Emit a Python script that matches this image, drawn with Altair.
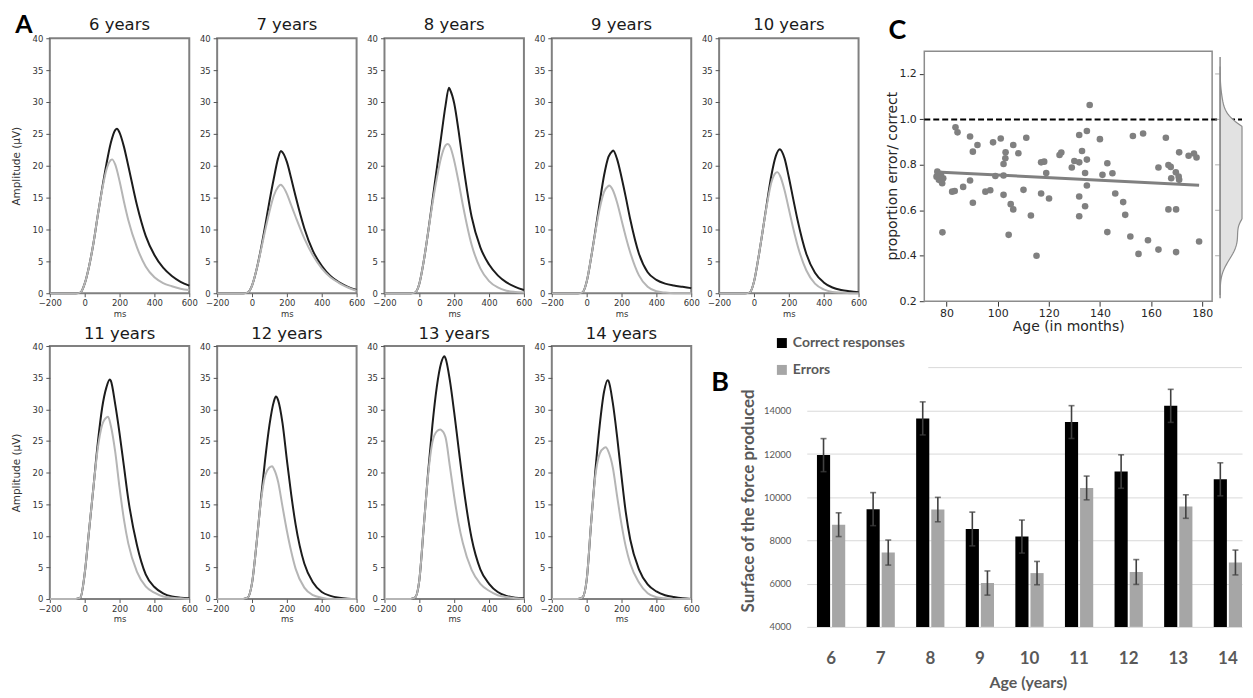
import altair as alt
import pandas as pd

FONT_A = "DejaVu Sans"
FONT_B = "Lato"

# ---------------- Panel A data ----------------
MS = [-200, -100, -50, -25, 0, 25, 50, 75, 100, 125, 150, 175, 200, 225, 250,
      300, 350, 400, 450, 500, 550, 600]
AGES = [6, 7, 8, 9, 10, 11, 12, 13, 14]

CORRECT_CURVES = {
    6: [0, 0, 0, 0.1, 1.5, 4.2, 7.8, 12.2, 16.4, 20.3, 23.6, 25.6, 25.2, 23.0, 20.0, 13.8, 9.0, 6.0, 4.0, 2.7, 1.8, 1.2],
    7: [0, 0, 0, 0.1, 1.2, 3.6, 6.8, 10.5, 14.4, 18.0, 21.2, 22.1, 20.6, 18.0, 15.2, 10.2, 6.6, 4.3, 2.7, 1.7, 1.0, 0.5],
    8: [0, 0, 0, 0.1, 1.5, 5.0, 9.5, 14.5, 19.5, 24.5, 29.4, 32.0, 29.8, 25.5, 20.5, 12.0, 7.2, 4.5, 2.8, 1.7, 1.0, 0.5],
    9: [0, 0, 0, 0.1, 1.8, 5.5, 9.8, 14.3, 18.5, 21.4, 22.35, 21.0, 18.2, 15.0, 11.6, 6.2, 3.3, 2.1, 1.5, 1.2, 1.0, 0.8],
    10: [0, 0, 0, 0.1, 1.8, 5.5, 9.8, 14.3, 18.5, 21.5, 22.58, 21.2, 18.2, 14.8, 11.5, 6.2, 3.2, 1.7, 0.9, 0.5, 0.3, 0.15],
    11: [0, 0, 0, 0.2, 4.0, 10.8, 17.6, 24.6, 30.2, 33.5, 34.5, 30.8, 26.2, 21.0, 15.8, 8.5, 3.9, 1.9, 0.9, 0.4, 0.2, 0.1],
    12: [0, 0, 0, 0.2, 2.5, 8.5, 15.5, 22.0, 27.5, 31.2, 31.4, 27.8, 22.0, 16.5, 11.8, 5.6, 2.6, 1.1, 0.5, 0.2, 0.05, 0],
    13: [0, 0, 0, 0.2, 3.0, 11.3, 19.9, 27.5, 33.5, 37.3, 38.1, 34.6, 29.5, 23.9, 18.4, 9.6, 4.7, 2.4, 1.1, 0.5, 0.2, 0.1],
    14: [0, 0, 0, 0.2, 3.0, 11.8, 20.3, 27.5, 32.8, 34.5, 31.0, 25.6, 19.4, 13.6, 9.4, 4.7, 2.3, 1.2, 0.6, 0.3, 0.1, 0],
}
ERROR_CURVES = {
    6: [0, 0, 0, 0.1, 1.5, 4.2, 7.8, 12.2, 16.2, 19.4, 20.9, 20.2, 17.6, 14.4, 11.5, 7.2, 4.2, 2.5, 1.6, 1.1, 0.7, 0.5],
    7: [0, 0, 0, 0.1, 1.2, 3.6, 6.6, 9.8, 12.8, 15.3, 16.7, 16.8, 15.6, 13.8, 12.0, 8.6, 5.9, 3.9, 2.5, 1.6, 0.9, 0.4],
    8: [0, 0, 0, 0.1, 1.5, 5.0, 9.5, 14.0, 18.0, 21.3, 23.2, 23.1, 20.8, 17.5, 13.8, 7.6, 3.9, 1.9, 0.9, 0.4, 0.2, 0.1],
    9: [0, 0, 0, 0.1, 1.8, 5.5, 9.6, 13.3, 15.9, 16.85, 16.2, 14.2, 11.5, 8.8, 6.4, 2.8, 1.0, 0.3, 0.1, 0, 0, 0],
    10: [0, 0, 0, 0.1, 1.8, 5.5, 9.8, 14.0, 17.4, 18.9, 18.4, 16.2, 13.2, 10.2, 7.5, 3.6, 1.5, 0.6, 0.2, 0.1, 0, 0],
    11: [0, 0, 0, 0.2, 4.0, 10.8, 17.6, 23.8, 27.5, 28.7, 27.4, 23.3, 17.6, 12.6, 8.8, 4.3, 2.0, 1.0, 0.4, 0.2, 0.1, 0],
    12: [0, 0, 0, 0.2, 2.5, 8.5, 15.2, 19.5, 20.8, 20.6, 18.5, 14.6, 10.8, 7.5, 4.8, 1.8, 0.6, 0.2, 0, 0, 0, 0],
    13: [0, 0, 0, 0.2, 3.0, 11.3, 19.5, 24.8, 26.5, 26.75, 25.6, 21.0, 16.2, 12.0, 8.8, 4.6, 2.4, 1.3, 0.6, 0.3, 0.1, 0],
    14: [0, 0, 0, 0.2, 3.0, 11.8, 19.5, 23.0, 23.9, 23.3, 20.8, 16.2, 11.8, 8.2, 5.6, 2.6, 0.9, 0.3, 0.1, 0, 0, 0],
}
CORRECT_PEAKS = {6: (185, 25.8), 7: (166, 22.3), 8: (170, 32.25), 9: (152, 22.4), 10: (148, 22.6),
                 11: (144, 34.7), 12: (137, 32.0), 13: (143, 38.4), 14: (120, 34.6)}
ERROR_PEAKS = {6: (157, 21.0), 7: (165, 17.0), 8: (162, 23.4), 9: (128, 16.9), 10: (133, 19.0),
               11: (134, 28.8), 12: (115, 21.0), 13: (120, 26.8), 14: (110, 24.0)}
MS_TICKS = [-200, 0, 200, 400, 600]
AMP_TICKS = [0, 5, 10, 15, 20, 25, 30, 35, 40]

# ---------------- Panel C data ----------------
AGE_MONTHS = [76.4, 76.1, 77.8, 78.7, 77.0, 78.3, 78.4, 83.5, 84.3, 82.2, 83.2, 86.5, 89.2, 89.2,
              90.3, 90.3, 92.1, 95.2, 97.1, 98.2, 99.1, 101.2, 102.3, 103.0, 103.1, 102.3, 102.3, 104.3,
              105.1, 106.1, 106.1, 108.1, 110.1, 111.2, 113.0, 115.2, 117.0, 117.0, 118.2, 119.0, 120.1, 124.2,
              124.9, 129.0, 130.0, 131.9, 131.9, 131.9, 131.9, 133.0, 134.2, 134.2, 134.9, 134.9, 134.9, 136.0,
              140.0, 141.0, 142.9, 142.9, 144.9, 146.0, 149.1, 149.9, 151.9, 152.9, 155.1, 156.9, 158.8, 162.9,
              162.9, 165.8, 166.8, 166.8, 167.7, 167.9, 169.7, 169.8, 169.8, 170.8, 171.0, 171.0, 174.7, 176.8,
              177.8, 178.8]
RATIO = [0.770, 0.748, 0.759, 0.741, 0.734, 0.719, 0.503, 0.965, 0.943, 0.682, 0.685, 0.703, 0.925, 0.731,
         0.858, 0.633, 0.887, 0.682, 0.688, 0.899, 0.751, 0.916, 0.804, 0.829, 0.855, 0.753, 0.668, 0.492,
         0.627, 0.604, 0.887, 0.851, 0.690, 0.919, 0.577, 0.400, 0.674, 0.811, 0.814, 0.764, 0.652, 0.843,
         0.854, 0.788, 0.817, 0.811, 0.931, 0.661, 0.574, 0.861, 0.764, 0.618, 0.949, 0.823, 0.709, 1.063,
         0.913, 0.756, 0.807, 0.504, 0.763, 0.674, 0.636, 0.580, 0.485, 0.927, 0.408, 0.938, 0.468, 0.788,
         0.427, 0.919, 0.799, 0.604, 0.791, 0.741, 0.767, 0.604, 0.416, 0.748, 0.855, 0.734, 0.840, 0.850,
         0.832, 0.463]
C_XDOMAIN = [71.3, 183.9]
C_YDOMAIN = [0.2, 1.3]
C_XTICKS = [80, 100, 120, 140, 160, 180]
C_YTICKS = [0.2, 0.4, 0.6, 0.8, 1.0, 1.2]
REFERENCE_LINE = [1.0]
KDE_SPINE = [0.213, 1.275]
KDE_TICKS = [0.4, 0.6, 0.8, 1.0, 1.2]

# ---------------- Panel B data ----------------
YEARS = [6, 7, 8, 9, 10, 11, 12, 13, 14]
CONDS = ["Correct responses", "Errors"]
CORRECT = [11950, 9450, 13650, 8530, 8180, 13480, 11190, 14230, 10830]
CORRECT_SE = [765, 765, 765, 780, 765, 760, 775, 765, 765]
ERRORS = [8730, 7440, 9430, 6030, 6490, 10430, 6540, 9570, 6980]
ERRORS_SE = [550, 580, 565, 560, 540, 550, 575, 545, 575]
B_YTICKS = [4000, 6000, 8000, 10000, 12000, 14000]
B_TOPLINE = [16000]

# ---------------- build tables ----------------
rows = []
for age in AGES:
    for cond, curves, peaks in (("Correct", CORRECT_CURVES, CORRECT_PEAKS),
                                ("Error", ERROR_CURVES, ERROR_PEAKS)):
        pts = list(zip(MS, curves[age])) + [peaks[age]]
        for t, v in sorted(pts):
            rows.append({"age": age, "cond": cond, "ms": t, "amp": v})
curves_df = pd.DataFrame(rows)


def letter(ch, dx, dy, font, size=27):
    return alt.Chart(pd.DataFrame({"t": [ch]})).mark_text(
        font=font, fontSize=size, fontWeight="bold", color="black",
        align="center", baseline="middle"
    ).encode(text="t:N", x=alt.value(dx), y=alt.value(dy))


def spacer(w, h, extra=None):
    base = alt.Chart(pd.DataFrame({"s": [0]})).mark_point(opacity=0)
    if extra is not None:
        return alt.layer(base, extra).properties(width=w, height=h)
    return base.properties(width=w, height=h)


def a_panel(age, height, ytitle, toff):
    d = curves_df[curves_df.age == age]
    xenc = alt.X("ms:Q", scale=alt.Scale(domain=[-200, 600], nice=False, zero=False),
                 axis=alt.Axis(values=MS_TICKS, title="ms", domain=False, grid=False, labelFlush=False,
                               labelFont=FONT_A, labelFontSize=8.5, labelColor="#333333",
                               labelPadding=2, tickSize=3.5, tickColor="#555555", tickWidth=1,
                               titleFont=FONT_A, titleFontSize=8.5, titleFontWeight="normal",
                               titleColor="#333333", titlePadding=2))
    yax = dict(values=AMP_TICKS, domain=False, grid=False, labelFont=FONT_A, labelFontSize=8.5,
               labelColor="#333333", labelPadding=3, tickSize=4, tickColor="#555555", tickWidth=1)
    if ytitle:
        yax.update(title="Amplitude (µV)", titleFont=FONT_A, titleFontSize=10.5,
                   titleFontWeight="normal", titleColor="#333333", titlePadding=11)
    else:
        yax.update(title=None)
    yenc = alt.Y("amp:Q", scale=alt.Scale(domain=[0, 40], nice=False), axis=alt.Axis(**yax))
    black = alt.Chart(d[d.cond == "Correct"]).mark_line(
        color="#1c1c1c", strokeWidth=2, interpolate="monotone").encode(x=xenc, y=yenc)
    gray = alt.Chart(d[d.cond == "Error"]).mark_line(
        color="#b5b5b5", strokeWidth=2, interpolate="monotone").encode(x=xenc, y=yenc)
    return alt.layer(black, gray).properties(
        width=140, height=height,
        title=alt.TitleParams(f"{age} years", font=FONT_A, fontSize=16.5, fontWeight="normal",
                              color="#1a1a1a", offset=toff, frame="group"),
        view=alt.ViewBackground(stroke="#808080", strokeWidth=2))


# ---------------- Panel C (view 289 x 264, plot drawn from 13 px below its top) ----------------
scatter_df = pd.DataFrame({"age": AGE_MONTHS, "prop": RATIO})
c_yscale = alt.Scale(domain=C_YDOMAIN, range=[264, 13], nice=False, zero=False)
c_xscale = alt.Scale(domain=C_XDOMAIN, nice=False, zero=False)
c_x = alt.X("age:Q", scale=c_xscale,
            axis=alt.Axis(values=C_XTICKS, title="Age (in months)", domain=False, grid=False,
                          labelFlush=False, labelFont=FONT_A, labelFontSize=11, labelColor="#262626",
                          labelPadding=1, tickSize=5, tickColor="#333333", titleFont=FONT_A,
                          titleFontSize=14, titleFontWeight="normal", titleColor="#262626",
                          titlePadding=1))
c_yaxis = alt.Axis(values=C_YTICKS, format=".1f", title="proportion error/ correct",
                   domain=False, grid=False, labelFont=FONT_A, labelFontSize=11,
                   labelColor="#262626", labelPadding=3, tickSize=5, tickColor="#333333",
                   titleFont=FONT_A, titleFontSize=14, titleFontWeight="normal",
                   titleColor="#262626", titleX=-32, titleY=138, titleBaseline="middle",
                   titleAlign="center")
c_y = alt.Y("prop:Q", scale=c_yscale, axis=c_yaxis)
frame_c = alt.Chart(pd.DataFrame({"age": [C_XDOMAIN[0]], "age2": [C_XDOMAIN[1]],
                                  "prop": [C_YDOMAIN[0]], "prop2": [C_YDOMAIN[1]]})).mark_rect(
    fill="white", fillOpacity=0, stroke="#8c8c8c", strokeWidth=1.5).encode(
    x=c_x, x2="age2:Q", y=c_y, y2="prop2:Q")
pts = alt.Chart(scatter_df).mark_circle(size=44, color="#808080", opacity=1).encode(x=c_x, y=c_y)
reg = alt.Chart(scatter_df).transform_regression("age", "prop").mark_line(
    color="#808080", strokeWidth=3).encode(x=c_x, y=c_y)
dash = alt.Chart(pd.DataFrame({"prop": REFERENCE_LINE})).mark_rule(
    color="black", strokeWidth=2, strokeDash=[6, 3]).encode(
    y=c_y, x=alt.value(0), x2=alt.value(319))
main_c = alt.layer(frame_c, pts, reg, dash, letter("C", -27, -7, FONT_B))

kx = alt.X("density:Q", scale=alt.Scale(domain=[0, 0.92], range=[297, 319], clamp=True), axis=None)
kde = alt.Chart(scatter_df).transform_density(
    "prop", as_=["prop", "density"], bandwidth=0.055, extent=[0.23, 1.23], steps=150
).mark_area(orient="horizontal", fill="#e2e2e2", stroke="#8c8c8c", strokeWidth=1.2).encode(x=kx, y=c_y)
spine = alt.Chart(pd.DataFrame({"density": [0.0], "prop": [KDE_SPINE[0]], "prop_end": [KDE_SPINE[1]]})).mark_rule(
    color="#8c8c8c", strokeWidth=1.5).encode(x=kx, y=c_y, y2="prop_end:Q")
kticks = alt.Chart(pd.DataFrame({"density": [0.0] * len(KDE_TICKS), "prop": KDE_TICKS})).mark_tick(
    orient="horizontal", size=5, thickness=1, color="#8c8c8c", xOffset=-2.5).encode(x=kx, y=c_y)
side_c = alt.layer(kde, spine, kticks)

panel_c = alt.layer(main_c, side_c).resolve_scale(x="independent").properties(width=289, height=264)

# ---------------- Panel B (view 140 wide, plot drawn from x=88 to x=525) ----------------
bdf = pd.DataFrame({"year": YEARS + YEARS, "cond": [CONDS[0]] * 9 + [CONDS[1]] * 9,
                    "force": CORRECT + ERRORS, "se": CORRECT_SE + ERRORS_SE})
b_base = alt.Chart(bdf).transform_calculate(lo="datum.force - datum.se", hi="datum.force + datum.se")
b_x = alt.X("year:O", sort=YEARS,
            scale=alt.Scale(range=[88, 525], paddingInner=0.43, paddingOuter=0.1026, align=1),
            axis=alt.Axis(title="Age (years)", labelAngle=0, ticks=False, domain=False, grid=False,
                          labelFont=FONT_B, labelFontSize=17, labelFontWeight="bold",
                          labelColor="#595959", labelPadding=24, titleFont=FONT_B, titleFontSize=16,
                          titleFontWeight="bold", titleColor="#595959",
                          titleX=310, titleY=56, titleAlign="center", titleBaseline="middle"))
b_xo = alt.XOffset("cond:N", sort=CONDS, scale=alt.Scale(domain=CONDS, paddingInner=0.13, paddingOuter=0))
b_yscale = alt.Scale(domain=[4000, 17000], nice=False, zero=False)
b_yax = alt.Axis(values=B_YTICKS, format="d", title="Surface of the force produced", domain=False,
                 offset=-88, ticks=False, grid=True, gridColor="#d9d9d9", gridWidth=1, labelFont=FONT_B,
                 labelFontSize=9.5, labelColor="#595959", labelPadding=16, titleFont=FONT_B,
                 titleFontSize=17, titleFontWeight="bold", titleColor="#595959",
                 titleX=-58, titleY=155, titleAlign="center", titleBaseline="middle")
bars = b_base.mark_bar().encode(
    x=b_x, xOffset=b_xo,
    y=alt.Y("force:Q", scale=b_yscale, axis=b_yax), y2=alt.datum(4000),
    color=alt.Color("cond:N", scale=alt.Scale(domain=CONDS, range=["#000000", "#a6a6a6"]),
                    legend=alt.Legend(orient="none", legendX=56, legendY=-10, title=None,
                                      direction="vertical", symbolType="square", symbolSize=100,
                                      symbolStrokeWidth=0, labelFont=FONT_B, labelFontSize=14,
                                      labelFontWeight="bold", labelColor="#595959",
                                      rowPadding=13, labelOffset=4, padding=0)))
err = b_base.mark_rule(color="#404040", strokeWidth=1.6).encode(
    x=b_x, xOffset=b_xo, y=alt.Y("lo:Q", scale=b_yscale, axis=b_yax), y2="hi:Q")
caps = b_base.transform_fold(["lo", "hi"], as_=["k", "v"]).mark_tick(
    orient="horizontal", color="#404040", thickness=1.6, size=6).encode(
    x=b_x, xOffset=b_xo, y=alt.Y("v:Q", scale=b_yscale, axis=b_yax))
topline = alt.Chart(pd.DataFrame({"force": B_TOPLINE})).mark_rule(color="#d9d9d9", strokeWidth=1).encode(
    y=alt.Y("force:Q", scale=b_yscale, axis=b_yax), x=alt.value(210), x2=alt.value(525))
panel_b = alt.layer(topline, bars, err, caps, letter("B", 1, 37, FONT_B)).properties(width=140, height=282)

# ---------------- grid layout (flush bounds, each-aligned) ----------------
row1 = [a_panel(6, 256, True, 1), spacer(28, 256, letter("A", -166, -13, FONT_B, 25)),
        a_panel(7, 256, False, 1), spacer(28, 256),
        a_panel(8, 256, False, 1), spacer(28, 256),
        a_panel(9, 256, False, 1), spacer(28, 256),
        a_panel(10, 256, False, 1), spacer(66, 256), panel_c]
row2 = [a_panel(11, 254, True, 0), spacer(28, 20),
        a_panel(12, 254, False, 0), spacer(28, 20),
        a_panel(13, 254, False, 0), spacer(28, 20),
        a_panel(14, 254, False, 0), spacer(28, 20), panel_b]

chart = alt.concat(*(row1 + row2), columns=11, spacing={"row": 45, "column": 0},
                   bounds="flush", align="each").resolve_scale(
    color="independent"
).properties(
    padding={"left": 2, "top": 3, "right": 0, "bottom": 0}, background="white"
).configure_view(stroke="transparent")

chart.save("out.html", embed_options={"renderer": "svg", "actions": False})
